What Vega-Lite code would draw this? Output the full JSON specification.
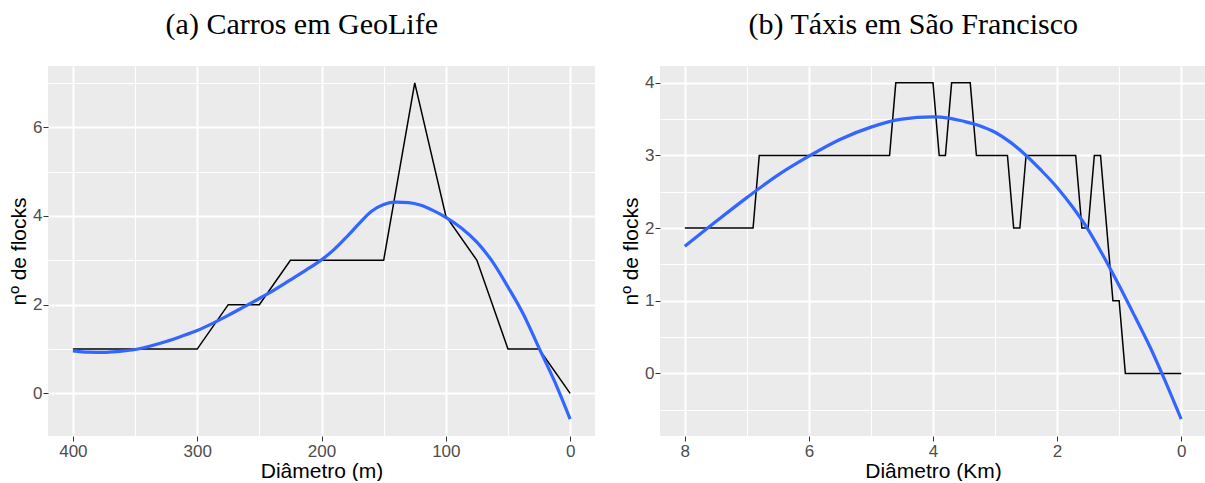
{
  "$schema": "https://vega.github.io/schema/vega-lite/v6.json",
  "background": "white",
  "padding": {"left": 8, "top": 10, "right": 0, "bottom": 0},
  "spacing": 25,
  "config": {
    "view": {"fill": "#EBEBEB", "stroke": null},
    "axis": {"domain": false, "tickColor": "#333333", "tickSize": 5, "tickWidth": 1, "labelColor": "#4D4D4D", "labelFont": "Liberation Sans", "labelFontSize": 17, "labelPadding": 2, "titleFont": "Liberation Sans", "titleFontSize": 21, "titleFontWeight": "normal", "titleColor": "black", "gridColor": "white", "gridWidth": 2, "gridOpacity": 1},
    "title": {"font": "Liberation Serif", "fontSize": 30, "fontWeight": "normal", "color": "black", "anchor": "middle", "frame": "bounds", "offset": 26}
  },
  "datasets": {
    "geolife": [
      {"d": 400, "n": 1}, {"d": 375, "n": 1}, {"d": 350, "n": 1}, {"d": 325, "n": 1}, {"d": 300, "n": 1},
      {"d": 275, "n": 2}, {"d": 250, "n": 2}, {"d": 225, "n": 3}, {"d": 200, "n": 3}, {"d": 175, "n": 3},
      {"d": 150, "n": 3}, {"d": 125, "n": 7}, {"d": 100, "n": 4}, {"d": 75, "n": 3}, {"d": 50, "n": 1},
      {"d": 25, "n": 1}, {"d": 0, "n": 0}
    ],
    "geolife_smooth": [
      {"d": 400, "n": 0.96}, {"d": 387.5, "n": 0.93}, {"d": 375, "n": 0.925}, {"d": 362.5, "n": 0.95},
      {"d": 350, "n": 0.99}, {"d": 337.5, "n": 1.07}, {"d": 325, "n": 1.17}, {"d": 312.5, "n": 1.29},
      {"d": 300, "n": 1.42}, {"d": 287.5, "n": 1.58}, {"d": 275, "n": 1.76}, {"d": 262.5, "n": 1.95},
      {"d": 250, "n": 2.14}, {"d": 237.5, "n": 2.34}, {"d": 225, "n": 2.56}, {"d": 212.5, "n": 2.78},
      {"d": 200, "n": 3.01}, {"d": 190, "n": 3.24}, {"d": 180, "n": 3.52}, {"d": 170, "n": 3.82},
      {"d": 160, "n": 4.1}, {"d": 150, "n": 4.26}, {"d": 140, "n": 4.31}, {"d": 130, "n": 4.3},
      {"d": 120, "n": 4.24}, {"d": 110, "n": 4.12}, {"d": 100, "n": 3.97}, {"d": 87.5, "n": 3.73},
      {"d": 75, "n": 3.41}, {"d": 62.5, "n": 2.97}, {"d": 50, "n": 2.4}, {"d": 37.5, "n": 1.78},
      {"d": 25, "n": 1.02}, {"d": 12.5, "n": 0.27}, {"d": 0, "n": -0.58}
    ],
    "taxis": [
      {"d": 8.0, "n": 2}, {"d": 7.9, "n": 2}, {"d": 7.8, "n": 2}, {"d": 7.7, "n": 2}, {"d": 7.6, "n": 2},
      {"d": 7.5, "n": 2}, {"d": 7.4, "n": 2}, {"d": 7.3, "n": 2}, {"d": 7.2, "n": 2}, {"d": 7.1, "n": 2},
      {"d": 7.0, "n": 2}, {"d": 6.9, "n": 2}, {"d": 6.8, "n": 3}, {"d": 6.7, "n": 3}, {"d": 6.6, "n": 3},
      {"d": 6.5, "n": 3}, {"d": 6.4, "n": 3}, {"d": 6.3, "n": 3}, {"d": 6.2, "n": 3}, {"d": 6.1, "n": 3},
      {"d": 6.0, "n": 3}, {"d": 5.9, "n": 3}, {"d": 5.8, "n": 3}, {"d": 5.7, "n": 3}, {"d": 5.6, "n": 3},
      {"d": 5.5, "n": 3}, {"d": 5.4, "n": 3}, {"d": 5.3, "n": 3}, {"d": 5.2, "n": 3}, {"d": 5.1, "n": 3},
      {"d": 5.0, "n": 3}, {"d": 4.9, "n": 3}, {"d": 4.8, "n": 3}, {"d": 4.7, "n": 3}, {"d": 4.6, "n": 4},
      {"d": 4.5, "n": 4}, {"d": 4.4, "n": 4}, {"d": 4.3, "n": 4}, {"d": 4.2, "n": 4}, {"d": 4.1, "n": 4},
      {"d": 4.0, "n": 4}, {"d": 3.9, "n": 3}, {"d": 3.8, "n": 3}, {"d": 3.7, "n": 4}, {"d": 3.6, "n": 4},
      {"d": 3.5, "n": 4}, {"d": 3.4, "n": 4}, {"d": 3.3, "n": 3}, {"d": 3.2, "n": 3}, {"d": 3.1, "n": 3},
      {"d": 3.0, "n": 3}, {"d": 2.9, "n": 3}, {"d": 2.8, "n": 3}, {"d": 2.7, "n": 2}, {"d": 2.6, "n": 2},
      {"d": 2.5, "n": 3}, {"d": 2.4, "n": 3}, {"d": 2.3, "n": 3}, {"d": 2.2, "n": 3}, {"d": 2.1, "n": 3},
      {"d": 2.0, "n": 3}, {"d": 1.9, "n": 3}, {"d": 1.8, "n": 3}, {"d": 1.7, "n": 3}, {"d": 1.6, "n": 2},
      {"d": 1.5, "n": 2}, {"d": 1.4, "n": 3}, {"d": 1.3, "n": 3}, {"d": 1.2, "n": 2}, {"d": 1.1, "n": 1},
      {"d": 1.0, "n": 1}, {"d": 0.9, "n": 0}, {"d": 0.8, "n": 0}, {"d": 0.7, "n": 0}, {"d": 0.6, "n": 0},
      {"d": 0.5, "n": 0}, {"d": 0.4, "n": 0}, {"d": 0.3, "n": 0}, {"d": 0.2, "n": 0}, {"d": 0.1, "n": 0},
      {"d": 0.0, "n": 0}
    ],
    "taxis_smooth": [
      {"d": 8, "n": 1.75}, {"d": 7.5, "n": 2.09}, {"d": 7, "n": 2.42}, {"d": 6.5, "n": 2.73},
      {"d": 6, "n": 2.99}, {"d": 5.5, "n": 3.22}, {"d": 5, "n": 3.39}, {"d": 4.5, "n": 3.5},
      {"d": 4, "n": 3.53}, {"d": 3.75, "n": 3.515}, {"d": 3.5, "n": 3.47}, {"d": 3.25, "n": 3.41},
      {"d": 3, "n": 3.32}, {"d": 2.75, "n": 3.18}, {"d": 2.5, "n": 3.0}, {"d": 2.25, "n": 2.79},
      {"d": 2, "n": 2.56}, {"d": 1.75, "n": 2.29}, {"d": 1.5, "n": 1.98}, {"d": 1.25, "n": 1.61},
      {"d": 1, "n": 1.21}, {"d": 0.75, "n": 0.79}, {"d": 0.5, "n": 0.36}, {"d": 0.25, "n": -0.12},
      {"d": 0, "n": -0.63}
    ]
  },
  "hconcat": [
    {
      "title": {"text": "(a) Carros em GeoLife"},
      "width": 547,
      "height": 370,
      "resolve": {"scale": {"x": "independent", "y": "independent"}, "axis": {"x": "independent", "y": "independent"}},
      "layer": [
        {
          "data": {"name": "geolife"},
          "mark": {"type": "line", "color": "black", "strokeWidth": 1.5},
          "encoding": {
            "x": {"field": "d", "type": "quantitative",
              "scale": {"domain": [-20, 420], "reverse": true, "nice": false, "zero": false},
              "axis": {"orient": "bottom", "grid": true, "values": [0, 100, 200, 300, 400], "format": "d", "title": "Diâmetro (m)", "titlePadding": 1}},
            "y": {"field": "n", "type": "quantitative",
              "scale": {"domain": [-0.959, 7.379], "nice": false, "zero": false},
              "axis": {"orient": "left", "grid": true, "values": [0, 2, 4, 6], "format": "d", "title": "nº de flocks", "labelPadding": 1, "titlePadding": 3}}
          }
        },
        {
          "data": {"name": "geolife_smooth"},
          "mark": {"type": "line", "color": "#3366FF", "strokeWidth": 3.2, "interpolate": "monotone"},
          "encoding": {
            "x": {"field": "d", "type": "quantitative",
              "scale": {"domain": [-20, 420], "reverse": true, "nice": false, "zero": false},
              "axis": {"orient": "top", "grid": true, "values": [50, 150, 250, 350], "labels": false, "ticks": false, "title": null, "gridWidth": 1.1, "minExtent": 0, "maxExtent": 0}},
            "y": {"field": "n", "type": "quantitative",
              "scale": {"domain": [-0.959, 7.379], "nice": false, "zero": false},
              "axis": {"orient": "right", "grid": true, "values": [1, 3, 5, 7], "labels": false, "ticks": false, "title": null, "gridWidth": 1.1, "minExtent": 0, "maxExtent": 0}}
          }
        }
      ]
    },
    {
      "title": {"text": "(b) Táxis em São Francisco"},
      "width": 546,
      "height": 370,
      "resolve": {"scale": {"x": "independent", "y": "independent"}, "axis": {"x": "independent", "y": "independent"}},
      "layer": [
        {
          "data": {"name": "taxis"},
          "mark": {"type": "line", "color": "black", "strokeWidth": 1.5},
          "encoding": {
            "x": {"field": "d", "type": "quantitative",
              "scale": {"domain": [-0.4, 8.4], "reverse": true, "nice": false, "zero": false},
              "axis": {"orient": "bottom", "grid": true, "values": [0, 2, 4, 6, 8], "format": "d", "title": "Diâmetro (Km)", "titlePadding": 1}},
            "y": {"field": "n", "type": "quantitative",
              "scale": {"domain": [-0.8615, 4.2315], "nice": false, "zero": false},
              "axis": {"orient": "left", "grid": true, "values": [0, 1, 2, 3, 4], "format": "d", "title": "nº de flocks", "labelPadding": 1, "titlePadding": 3}}
          }
        },
        {
          "data": {"name": "taxis_smooth"},
          "mark": {"type": "line", "color": "#3366FF", "strokeWidth": 3.2, "interpolate": "monotone"},
          "encoding": {
            "x": {"field": "d", "type": "quantitative",
              "scale": {"domain": [-0.4, 8.4], "reverse": true, "nice": false, "zero": false},
              "axis": {"orient": "top", "grid": true, "values": [1, 3, 5, 7], "labels": false, "ticks": false, "title": null, "gridWidth": 1.1, "minExtent": 0, "maxExtent": 0}},
            "y": {"field": "n", "type": "quantitative",
              "scale": {"domain": [-0.8615, 4.2315], "nice": false, "zero": false},
              "axis": {"orient": "right", "grid": true, "values": [-0.5, 0.5, 1.5, 2.5, 3.5], "labels": false, "ticks": false, "title": null, "gridWidth": 1.1, "minExtent": 0, "maxExtent": 0}}
          }
        }
      ]
    }
  ]
}
